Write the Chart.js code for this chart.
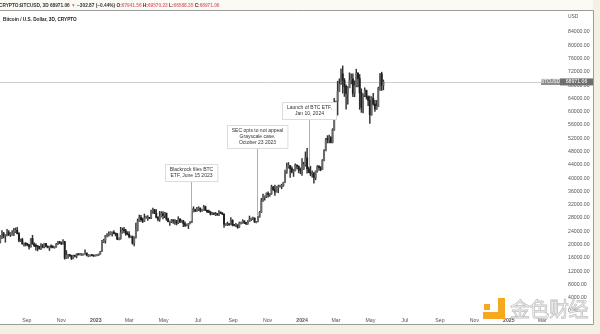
<!DOCTYPE html>
<html>
<head>
<meta charset="utf-8">
<script src="https://cdn.jsdelivr.net/npm/chart.js@4/dist/chart.umd.min.js"></script>
<style>
    html, body { margin: 0; padding: 0; background: #f3f0e4; }
    #wrap { position: relative; width: 600px; height: 334px; overflow: hidden; font-family: "Liberation Sans", Arial, sans-serif; }
    #btc { position: absolute; left: 0; top: 0; }
    #hdr { position: absolute; left: -1px; top: 3px; font-size: 4.75px; line-height: 5px; font-weight: bold; color: #333; white-space: nowrap; }
    #hdr .r { color: #e0707a; }
    #ttl { position: absolute; left: 3px; top: 16.5px; font-size: 4.7px; line-height: 5px; font-weight: bold; color: #222; white-space: nowrap; }
    #usd { position: absolute; left: 568px; top: 14px; font-size: 4.9px; line-height: 5px; color: #555; }
    .lg { position: absolute; background: #f6a821; }
    #wmtext { position: absolute; left: 510px; top: 298px; font-family: "Noto Sans CJK SC", sans-serif; font-size: 20px; line-height: 22px;
              color: rgba(255,255,255,0.9); -webkit-text-stroke: 0.8px #c2c2c2; letter-spacing: -0.5px; white-space: nowrap; }
</style>
</head>
<body>
<div id="wrap">
    <canvas id="btc" width="600" height="334"></canvas>
    <div id="hdr">CRYPTO:BTCUSD, 3D 68971.06 <span class="r">▼</span> −302.87 (−0.44%) O:<span class="r">67941.56</span> H:<span class="r">69570.23</span> L:<span class="r">66588.35</span> C:<span class="r">68971.06</span></div>
    <div id="ttl">Bitcoin / U.S. Dollar, 3D, CRYPTO</div>
    <div id="usd">USD</div>
    <div class="lg" style="left:484px;top:304px;width:6px;height:6px;"></div>
    <div class="lg" style="left:498px;top:298px;width:7px;height:20px;"></div>
    <div class="lg" style="left:483px;top:312px;width:22px;height:7px;"></div>
    <div id="wmtext">金色财经</div>
</div>

<script>
/* =========================================
   DATA  (3D candles, prices in thousand USD)
   day numbers counted from 2022-01-01
========================================= */

const firstDay = 196;     // 2022-07-16
const stepDays = 3;
const firstOpen = 20.8;

const closes = [
    22.4, 23.2, 22.6, 22.9, 23.6, 23.0, 23.2, 23.2, 24.0, 24.3,
    23.3, 21.2, 21.5, 20.2, 20.3, 20.1, 19.9, 19.3, 21.8, 20.2,
    19.7, 19.5, 19.4, 18.8, 19.4, 19.3, 20.3, 19.5, 19.1, 19.4,
    19.3, 19.1, 19.2, 20.1, 20.6, 20.5, 20.2, 20.9, 15.9, 16.8,
    16.9, 16.7, 15.8, 16.6, 16.5, 17.2, 16.9, 17.1, 17.1, 17.1,
    17.4, 16.8, 16.8, 16.8, 16.7, 16.6, 16.7, 16.8, 17.1, 17.9,
    20.9, 21.2, 22.7, 22.9, 23.0, 23.7, 23.7, 23.3, 23.2, 21.6,
    21.8, 23.5, 24.3, 24.2, 23.2, 23.1, 22.4, 22.4, 20.4, 22.2,
    24.4, 26.9, 28.2, 27.5, 27.1, 28.0, 28.2, 28.2, 27.9, 30.2,
    30.5, 29.4, 28.2, 27.6, 28.4, 29.3, 28.7, 29.5, 27.7, 26.9,
    26.9, 27.4, 27.1, 27.2, 26.5, 27.7, 26.8, 27.1, 26.3, 25.8,
    25.9, 26.3, 26.8, 29.9, 30.5, 30.1, 30.6, 31.0, 30.3, 30.4,
    31.4, 30.3, 29.9, 29.8, 29.2, 29.3, 29.2, 29.2, 29.0, 29.8,
    29.4, 29.2, 26.1, 26.2, 26.2, 26.0, 27.3, 25.9, 25.8, 25.9,
    25.2, 26.5, 26.5, 27.1, 26.6, 26.3, 26.9, 27.6, 27.8, 28.0,
    26.9, 26.9, 28.4, 29.7, 33.1, 34.2, 34.5, 35.4, 35.0, 35.4,
    37.3, 36.5, 35.8, 37.4, 37.4, 37.8, 37.8, 38.7, 41.9, 43.3,
    43.8, 42.9, 41.9, 42.2, 43.9, 43.6, 42.6, 42.3, 42.8, 44.0,
    46.1, 42.8, 41.7, 41.3, 41.6, 40.1, 42.1, 43.3, 43.2, 42.6,
    45.3, 48.3, 51.8, 51.6, 52.3, 50.7, 54.5, 61.1, 63.1, 66.1,
    68.3, 71.4, 69.5, 67.6, 65.5, 67.2, 69.5, 69.9, 65.5, 67.8,
    71.6, 70.0, 65.7, 61.3, 64.9, 66.4, 64.5, 63.4, 59.1, 64.0,
    62.3, 60.8, 61.6, 67.0, 71.4, 67.94, 68.97
];

const highs = [
    22.7, 24.2, 23.7, 23.0, 24.6, 24.2, 23.6, 24.2, 24.9, 25.0,
    25.2, 23.6, 21.7, 21.9, 20.4, 20.6, 20.4, 20.1, 21.8, 22.8,
    20.5, 20.2, 19.6, 19.5, 20.3, 20.1, 20.4, 20.4, 19.6, 19.5,
    19.9, 19.7, 19.3, 20.4, 21.0, 21.0, 20.8, 21.5, 21.0, 18.2,
    17.0, 17.0, 16.8, 16.8, 16.7, 17.2, 17.3, 17.4, 17.3, 17.2,
    18.4, 17.5, 17.0, 16.9, 16.9, 16.8, 16.8, 16.9, 17.2, 18.0,
    21.3, 21.6, 22.8, 23.3, 23.8, 23.9, 23.8, 24.2, 23.4, 23.4,
    22.0, 25.2, 25.0, 25.2, 24.6, 23.9, 23.9, 22.6, 22.6, 22.3,
    26.5, 27.7, 28.9, 28.8, 28.0, 29.2, 28.6, 28.7, 28.2, 30.4,
    31.0, 30.6, 30.5, 28.4, 30.0, 29.9, 29.9, 29.7, 29.4, 28.0,
    27.1, 27.6, 27.5, 27.5, 27.3, 28.4, 27.8, 27.4, 27.3, 26.8,
    26.2, 26.4, 26.9, 30.8, 31.4, 30.7, 31.2, 31.4, 31.0, 30.6,
    31.8, 31.6, 30.4, 30.4, 30.0, 29.7, 29.5, 29.7, 29.3, 30.2,
    29.8, 29.6, 29.2, 26.3, 26.8, 26.3, 28.1, 27.5, 26.0, 26.4,
    26.0, 26.8, 26.8, 27.5, 27.2, 26.7, 27.2, 28.6, 28.0, 28.3,
    28.0, 27.0, 28.6, 30.0, 33.9, 35.2, 34.7, 35.6, 35.9, 35.4,
    37.9, 37.5, 37.9, 37.5, 37.9, 37.9, 38.2, 38.8, 42.4, 44.5,
    44.7, 43.8, 43.4, 42.6, 44.3, 44.0, 43.7, 43.1, 45.9, 44.8,
    47.9, 49.0, 43.3, 43.6, 42.2, 41.7, 42.2, 43.8, 43.8, 43.5,
    45.6, 48.6, 52.0, 52.8, 53.0, 52.5, 54.9, 64.0, 63.2, 69.2,
    69.9, 72.9, 73.8, 70.0, 68.1, 67.6, 71.7, 71.4, 71.4, 69.3,
    72.8, 71.8, 71.2, 66.9, 65.4, 67.2, 66.5, 64.8, 64.7, 64.5,
    65.5, 63.4, 63.4, 67.4, 71.5, 71.9, 69.57
];

const lows = [
    20.5, 21.8, 22.0, 20.7, 22.6, 22.7, 22.4, 22.8, 22.7, 23.6,
    23.2, 20.8, 20.9, 20.1, 19.5, 19.6, 19.6, 18.6, 19.2, 20.1,
    19.4, 18.3, 18.1, 18.6, 18.5, 19.0, 19.0, 19.3, 19.0, 18.2,
    19.0, 19.0, 18.9, 19.2, 20.0, 20.3, 20.0, 20.1, 15.6, 15.8,
    15.9, 16.4, 15.5, 15.7, 16.3, 16.0, 16.9, 16.9, 16.7, 16.9,
    17.1, 16.6, 16.3, 16.6, 16.6, 16.4, 16.5, 16.6, 16.7, 17.1,
    17.9, 20.6, 20.4, 22.3, 22.5, 22.9, 22.5, 23.2, 22.6, 21.5,
    21.4, 21.6, 23.4, 23.6, 22.8, 22.9, 22.0, 22.1, 20.1, 19.6,
    21.9, 24.1, 26.9, 27.0, 26.6, 26.9, 27.9, 27.3, 27.8, 27.8,
    29.4, 29.3, 28.0, 27.1, 27.0, 28.3, 27.7, 28.1, 27.3, 26.8,
    25.8, 26.6, 26.4, 26.1, 25.9, 26.3, 26.6, 26.7, 25.4, 25.4,
    25.6, 24.8, 26.2, 26.6, 29.8, 29.9, 30.0, 30.2, 29.8, 30.0,
    30.3, 30.2, 29.6, 29.6, 28.9, 29.0, 29.0, 28.7, 28.8, 28.7,
    29.3, 29.0, 25.2, 25.8, 25.7, 25.8, 25.9, 25.6, 25.6, 25.4,
    24.9, 25.1, 26.2, 26.4, 26.3, 26.0, 26.1, 26.9, 27.2, 27.5,
    26.6, 26.5, 26.8, 28.2, 29.6, 33.0, 33.4, 34.1, 34.3, 34.5,
    35.1, 36.3, 34.8, 35.8, 35.6, 37.3, 36.8, 37.5, 38.7, 41.4,
    43.0, 40.2, 41.6, 40.5, 42.2, 42.8, 41.6, 41.3, 40.8, 42.6,
    43.6, 41.5, 41.7, 40.7, 40.3, 38.5, 39.5, 41.8, 42.3, 42.2,
    42.6, 45.2, 48.2, 50.6, 50.6, 50.6, 50.6, 54.4, 60.8, 59.0,
    66.1, 68.2, 65.6, 64.6, 60.8, 62.3, 67.2, 68.4, 64.5, 64.5,
    67.5, 67.5, 60.7, 59.8, 59.6, 64.5, 63.8, 61.8, 56.5, 58.9,
    62.0, 60.1, 60.7, 61.5, 66.4, 66.4, 66.59
];

const lastPrice = 68971.06;
const symbolName = "BTCUSD";

const monthTickDays = [243, 304, 365, 424, 485, 546, 608, 669, 730, 790, 851, 912, 974, 1035, 1096, 1155];
const monthTickLabels = ["Sep", "Nov", "2023", "Mar", "May", "Jul", "Sep", "Nov", "2024", "Mar", "May", "Jul", "Sep", "Nov", "2025", "Mar"];

const priceTicks = [0, 4000, 8000, 12000, 16000, 20000, 24000, 28000, 32000, 36000, 40000, 44000,
    48000, 52000, 56000, 60000, 64000, 68000, 72000, 76000, 80000, 84000];

const eventDays = [533, 651, 742];
const eventLabels = [
    ["Blackrock files BTC", "ETF, June 15 2023"],
    ["SEC opts to not appeal", "Grayscale case,", "October 23 2023"],
    ["Launch of BTC ETF,", "Jan 10, 2024"]
];
const eventBoxTops = [164, 125, 102];


/* =========================================
   BUILD CANDLES
========================================= */

const wickData = [];
const bodyData = [];
const bodyColors = [];

closes.forEach((c, i) => {
    const o = i === 0 ? firstOpen : closes[i - 1];
    const x = firstDay + i * stepDays;
    wickData.push({ x: x, y: [lows[i] * 1000, highs[i] * 1000] });
    bodyData.push({ x: x, y: [o * 1000, c * 1000] });
    bodyColors.push(c >= o ? "#6a6a6a" : "#1e1e1e");
});

const FONT = '"Liberation Sans", Arial, sans-serif';


/* =========================================
   FRAME / ANNOTATIONS PLUGIN
========================================= */

const framePlugin = {
    id: "frame",

    beforeDraw(chart) {
        const c = chart.ctx;
        c.save();
        c.fillStyle = "#f3f0e4";
        c.fillRect(0, 0, 600, 334);
        c.fillStyle = "#fbfaf5";
        c.fillRect(0, 0, 593, 10);
        c.fillStyle = "#ffffff";
        c.fillRect(0, 11, 593, 313);
        c.strokeStyle = "#9c9c9c";
        c.lineWidth = 1;
        c.beginPath();
        c.moveTo(0, 10.5);
        c.lineTo(593.5, 10.5);
        c.lineTo(593.5, 324.5);
        c.lineTo(0, 324.5);
        c.stroke();
        c.restore();
    },

    beforeDatasetsDraw(chart) {
        const c = chart.ctx;
        const y = Math.round(chart.scales.y.getPixelForValue(lastPrice)) + 0.5;
        c.save();
        c.strokeStyle = "#cfcfcf";
        c.lineWidth = 1;
        c.beginPath();
        c.moveTo(0, y);
        c.lineTo(541, y);
        c.stroke();
        c.restore();
    },

    afterDatasetsDraw(chart) {
        const c = chart.ctx;
        const xs = chart.scales.x;
        const ys = chart.scales.y;

        c.save();

        // last price labels
        const py = ys.getPixelForValue(lastPrice);
        c.fillStyle = "#8a8a8a";
        c.fillRect(541, py - 3, 19, 6);
        c.fillStyle = "#6e6e6e";
        c.fillRect(560, py - 3.5, 33, 7);
        c.fillStyle = "#ffffff";
        c.font = "4.6px " + FONT;
        c.textAlign = "center";
        c.textBaseline = "middle";
        c.fillText(symbolName, 550.5, py);
        c.font = "5.2px " + FONT;
        c.fillText(lastPrice.toFixed(2), 576.5, py);

        // event callouts
        c.font = "5px " + FONT;
        eventDays.forEach((d, k) => {
            const px = Math.round(xs.getPixelForValue(d)) + 0.5;
            const lines = eventLabels[k];
            const w = Math.max(...lines.map(t => c.measureText(t).width)) + 9;
            const h = lines.length * 6 + 5;
            const top = eventBoxTops[k];
            const idx = Math.round((d - firstDay) / stepDays);
            const yEnd = ys.getPixelForValue(highs[idx] * 1000) - 1;

            c.strokeStyle = "#b0b0b0";
            c.lineWidth = 1;
            c.beginPath();
            c.moveTo(px, top + h);
            c.lineTo(px, yEnd);
            c.stroke();

            const left = Math.round(px - w / 2) + 0.5;
            c.fillStyle = "#ffffff";
            c.fillRect(left, top + 0.5, w, h);
            c.strokeStyle = "#dcdcdc";
            c.strokeRect(left, top + 0.5, w, h);

            c.fillStyle = "#333333";
            lines.forEach((t, j) => {
                c.fillText(t, px, top + 6 + j * 6);
            });
        });

        c.restore();
    }
};


/* =========================================
   CREATE CHART
========================================= */

new Chart(document.getElementById("btc").getContext("2d"), {

    type: "bar",

    data: {
        datasets: [
            {
                data: bodyData,
                backgroundColor: bodyColors,
                barThickness: 1.3,
                minBarLength: 1,
                grouped: false,
                order: 1
            },
            {
                data: wickData,
                backgroundColor: "#333333",
                barThickness: 0.8,
                grouped: false,
                order: 2
            }
        ]
    },

    options: {

        responsive: false,
        animation: false,
        events: [],

        layout: {
            padding: { top: 24, left: 0, right: 0, bottom: 9 }
        },

        plugins: {
            legend: { display: false },
            tooltip: { enabled: false }
        },

        scales: {

            x: {
                type: "linear",
                min: 195.5,
                max: 1183,
                offset: false,
                grid: { display: false, drawTicks: false },
                border: { display: false },
                afterBuildTicks: s => { s.ticks = monthTickDays.map(v => ({ value: v })); },
                afterFit: s => { s.height = 11; },
                ticks: {
                    autoSkip: false,
                    maxRotation: 0,
                    padding: 3,
                    color: "#555",
                    font: ctx => ({
                        family: FONT,
                        size: 5.2,
                        weight: /^\d/.test(monthTickLabels[ctx.index] || "") ? "bold" : "normal"
                    }),
                    callback: (v, i) => monthTickLabels[i]
                }
            },

            y: {
                position: "right",
                min: -903,
                max: 86409,
                grid: { display: false, drawTicks: false },
                border: { display: false },
                afterBuildTicks: s => { s.ticks = priceTicks.map(v => ({ value: v })); },
                afterFit: s => { s.width = 42; },
                ticks: {
                    crossAlign: "near",
                    padding: 10,
                    color: "#555",
                    font: { family: FONT, size: 5.2 },
                    callback: v => v.toFixed(2)
                }
            }

        }

    },

    plugins: [framePlugin]

});
</script>
</body>
</html>
